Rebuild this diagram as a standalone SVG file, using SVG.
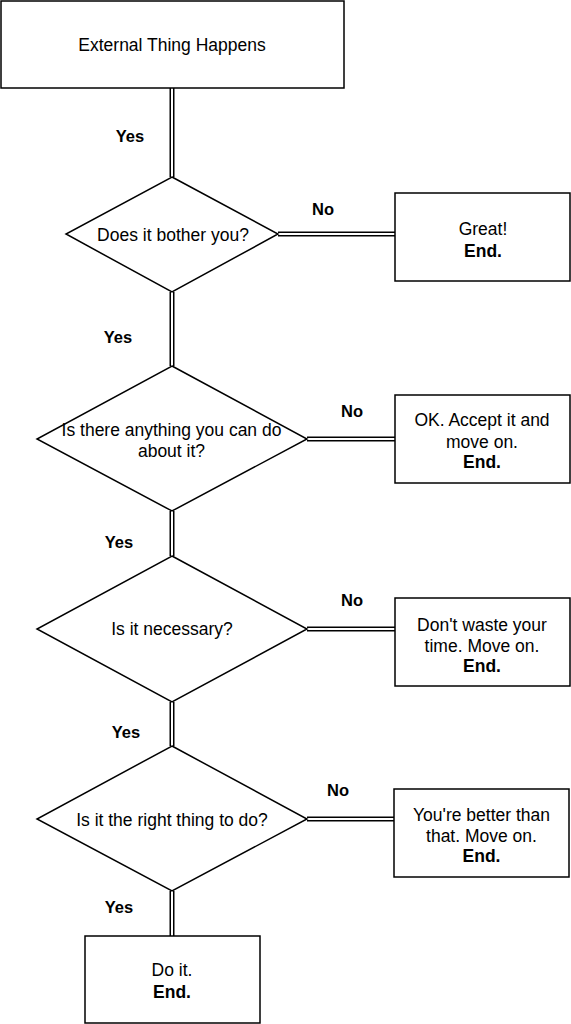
<svg xmlns="http://www.w3.org/2000/svg" width="571" height="1024" viewBox="0 0 571 1024">
  <style>
    .shape { fill: #ffffff; stroke: #000000; stroke-width: 1.5; }
    .t { font-family: "Liberation Sans", Arial, sans-serif; font-size: 17.5px; fill: #000000; text-anchor: middle; }
    .b { font-weight: bold; }
    .lbl { font-family: "Liberation Sans", Arial, sans-serif; font-size: 16.5px; font-weight: bold; fill: #000000; text-anchor: middle; }
    .linkOuter { fill: none; stroke: #000000; stroke-width: 5; }
    .linkInner { fill: none; stroke: #ffffff; stroke-width: 2; }
  </style>
  <rect width="571" height="1024" fill="#ffffff"/>

  <g id="connectors">
    <g class="linkOuter">
      <path d="M172,88 V177"/>
      <path d="M172,292 V366"/>
      <path d="M172,511 V556"/>
      <path d="M172,702 V746"/>
      <path d="M172,891 V936"/>
      <path d="M278,234 H395"/>
      <path d="M307,439 H395"/>
      <path d="M307,629 H395"/>
      <path d="M307,819 H394"/>
    </g>
    <g class="linkInner">
      <path d="M172,88 V177"/>
      <path d="M172,292 V366"/>
      <path d="M172,511 V556"/>
      <path d="M172,702 V746"/>
      <path d="M172,891 V936"/>
      <path d="M278,234 H395"/>
      <path d="M307,439 H395"/>
      <path d="M307,629 H395"/>
      <path d="M307,819 H394"/>
    </g>
    <text class="lbl" x="130" y="142">Yes</text>
    <text class="lbl" x="323" y="215">No</text>
    <text class="lbl" x="118" y="343">Yes</text>
    <text class="lbl" x="352" y="417">No</text>
    <text class="lbl" x="119" y="548">Yes</text>
    <text class="lbl" x="352" y="606">No</text>
    <text class="lbl" x="126" y="738">Yes</text>
    <text class="lbl" x="338" y="796">No</text>
    <text class="lbl" x="119" y="913">Yes</text>
  </g>

  <g id="start">
    <rect class="shape" x="1" y="1" width="343" height="87"/>
    <text class="t" x="172" y="51">External Thing Happens</text>
  </g>

  <g id="q1">
    <polygon class="shape" points="172,177 278,234 172,292 66,234"/>
    <text class="t" x="173" y="240.5">Does it bother you?</text>
  </g>
  <g id="end1">
    <rect class="shape" x="395" y="193" width="175" height="88"/>
    <text class="t" x="483" y="235">Great!</text>
    <text class="t b" x="483" y="257">End.</text>
  </g>

  <g id="q2">
    <polygon class="shape" points="172,366 307,439 172,511 37,439"/>
    <text class="t" x="171.5" y="436">Is there anything you can do</text>
    <text class="t" x="171.5" y="457">about it?</text>
  </g>
  <g id="end2">
    <rect class="shape" x="395" y="395" width="175" height="88"/>
    <text class="t" x="482" y="426">OK. Accept it and</text>
    <text class="t" x="482" y="447.5">move on.</text>
    <text class="t b" x="482" y="467.5">End.</text>
  </g>

  <g id="q3">
    <polygon class="shape" points="172,556 307,629 172,702 37,629"/>
    <text class="t" x="172" y="635">Is it necessary?</text>
  </g>
  <g id="end3">
    <rect class="shape" x="395" y="598" width="175" height="88"/>
    <text class="t" x="482" y="631">Don't waste your</text>
    <text class="t" x="482" y="651.5">time. Move on.</text>
    <text class="t b" x="482" y="672">End.</text>
  </g>

  <g id="q4">
    <polygon class="shape" points="172,746 307,819 172,891 37,819"/>
    <text class="t" x="172" y="826">Is it the right thing to do?</text>
  </g>
  <g id="end4">
    <rect class="shape" x="394" y="789" width="175" height="88"/>
    <text class="t" x="481.5" y="821">You're better than</text>
    <text class="t" x="481.5" y="841.5">that. Move on.</text>
    <text class="t b" x="481.5" y="862">End.</text>
  </g>

  <g id="end5">
    <rect class="shape" x="85" y="936" width="175" height="87"/>
    <text class="t" x="172" y="976">Do it.</text>
    <text class="t b" x="172" y="997.5">End.</text>
  </g>
</svg>
